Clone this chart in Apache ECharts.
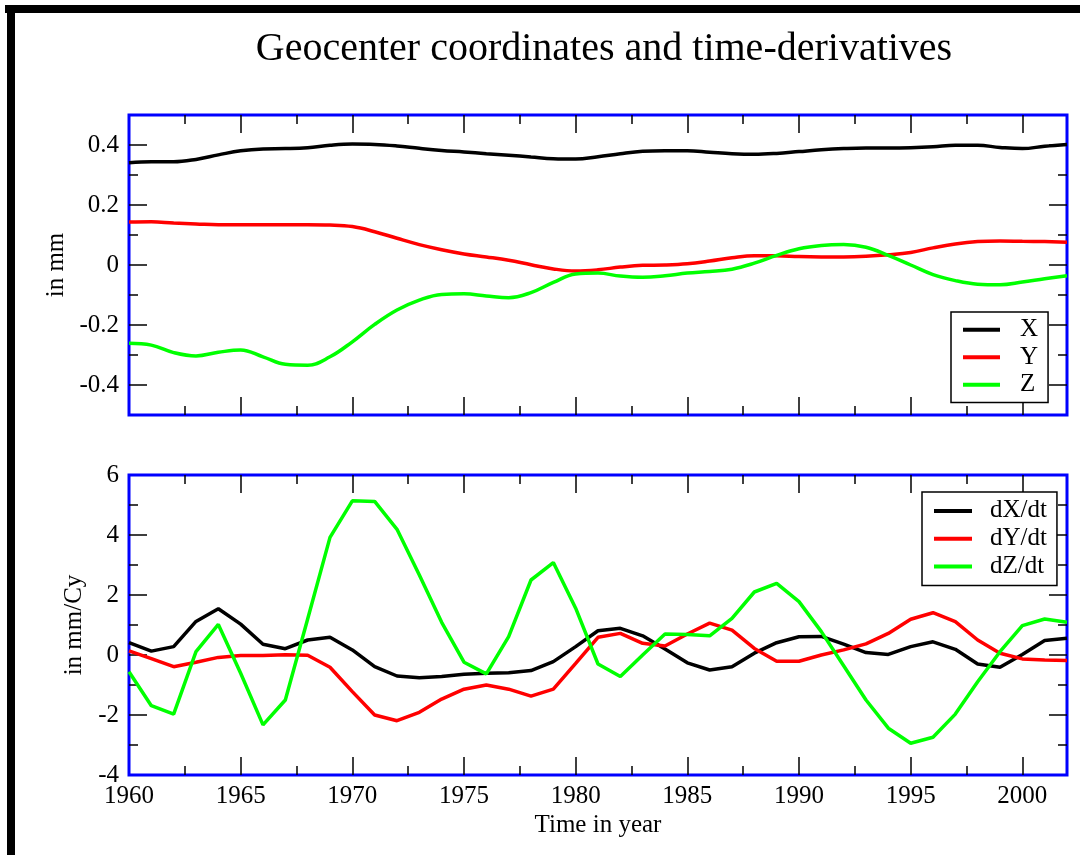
<!DOCTYPE html>
<html>
<head>
<meta charset="utf-8">
<script src="https://cdn.jsdelivr.net/npm/echarts@6/dist/echarts.min.js"></script>
<style>
html,body{margin:0;padding:0;background:#fff;}
#chart{width:1080px;height:855px;}
</style>
</head>
<body>
<div id="chart"></div>
<script>
// ---- data ----
const years = [1960,1961,1962,1963,1964,1965,1966,1967,1968,1969,1970,1971,1972,1973,1974,1975,1976,1977,1978,1979,1980,1981,1982,1983,1984,1985,1986,1987,1988,1989,1990,1991,1992,1993,1994,1995,1996,1997,1998,1999,2000,2001,2002];
const X = [0.341,0.344,0.344,0.352,0.367,0.381,0.387,0.388,0.391,0.399,0.403,0.402,0.397,0.389,0.382,0.377,0.371,0.366,0.360,0.354,0.353,0.361,0.371,0.379,0.381,0.381,0.376,0.371,0.369,0.372,0.378,0.384,0.388,0.390,0.390,0.391,0.394,0.399,0.399,0.392,0.388,0.396,0.402];
const Y = [0.143,0.144,0.140,0.137,0.134,0.134,0.134,0.134,0.134,0.133,0.128,0.111,0.089,0.068,0.051,0.037,0.027,0.016,0.001,-0.013,-0.020,-0.016,-0.007,-0.001,0.000,0.004,0.013,0.024,0.031,0.031,0.028,0.027,0.027,0.029,0.034,0.042,0.057,0.070,0.078,0.080,0.079,0.078,0.076];
const Z = [-0.261,-0.267,-0.292,-0.303,-0.291,-0.283,-0.306,-0.331,-0.334,-0.306,-0.256,-0.198,-0.150,-0.117,-0.098,-0.096,-0.103,-0.109,-0.092,-0.058,-0.030,-0.027,-0.037,-0.041,-0.036,-0.027,-0.022,-0.014,0.006,0.032,0.054,0.065,0.068,0.059,0.032,0.000,-0.032,-0.052,-0.064,-0.066,-0.057,-0.046,-0.036];
const dX = [0.41,0.13,0.28,1.12,1.54,1.03,0.36,0.21,0.50,0.59,0.17,-0.39,-0.70,-0.76,-0.72,-0.64,-0.61,-0.59,-0.52,-0.22,0.28,0.81,0.89,0.64,0.20,-0.26,-0.50,-0.39,0.06,0.41,0.61,0.62,0.36,0.08,0.02,0.28,0.44,0.19,-0.30,-0.41,0.02,0.48,0.56];
const dY = [0.14,-0.12,-0.39,-0.24,-0.08,-0.02,-0.02,0.01,-0.01,-0.41,-1.22,-2.00,-2.19,-1.91,-1.47,-1.14,-1.00,-1.14,-1.37,-1.14,-0.28,0.59,0.72,0.39,0.30,0.70,1.06,0.83,0.22,-0.21,-0.21,0.00,0.17,0.37,0.72,1.19,1.41,1.11,0.50,0.06,-0.13,-0.17,-0.18];
const dZ = [-0.56,-1.69,-1.97,0.11,1.02,-0.61,-2.33,-1.50,1.20,3.92,5.14,5.12,4.19,2.67,1.09,-0.24,-0.63,0.61,2.50,3.08,1.56,-0.30,-0.72,0.00,0.70,0.68,0.64,1.22,2.10,2.39,1.78,0.78,-0.36,-1.50,-2.44,-2.94,-2.74,-1.97,-0.89,0.11,0.98,1.20,1.09];

const xMajor = [1965,1970,1975,1980,1985,1990,1995,2000];
const xMinor = [1962.5,1967.5,1972.5,1977.5,1982.5,1987.5,1992.5,1997.5];
const xLabels = [1960,1965,1970,1975,1980,1985,1990,1995,2000];
const topMajor = [-0.4,-0.2,0,0.2,0.4];
const topMinor = [-0.3,-0.1,0.1,0.3];
const botMajor = [-2,0,2,4];
const botMinor = [-3,-1,1,3,5];
const botLabels = [-4,-2,0,2,4,6];

const FONT = "'Liberation Serif','Times New Roman',serif";
const BLUE = '#0000ff';
const C = {X:'#000000', Y:'#ff0000', Z:'#00ff00'};

const chart = echarts.init(document.getElementById('chart'), null, {renderer:'canvas'});

function xAx(grid, pos, ticks, len, labels, name) {
  const o = {
    type:'value', gridIndex:grid, position:pos, min:1960, max:2002,
    axisLine:{show:false, onZero:false}, splitLine:{show:false},
    axisTick:{show:true, inside:true, length:len, customValues:ticks, lineStyle:{color:'#000', width:1.5}},
    axisLabel:{show:!!labels, customValues:labels||[], margin:9, color:'#000', fontFamily:FONT, fontSize:25,
               formatter:v=>String(Math.round(v))}
  };
  if (name) {
    o.name = name; o.nameLocation = 'middle'; o.nameGap = 38;
    o.nameTextStyle = {color:'#000', fontFamily:FONT, fontSize:25};
  }
  return o;
}
function yAx(grid, pos, min, max, ticks, len, labels, name, gap, fmt) {
  const o = {
    type:'value', gridIndex:grid, position:pos, min:min, max:max,
    axisLine:{show:false, onZero:false}, splitLine:{show:false},
    axisTick:{show:true, inside:true, length:len, customValues:ticks, lineStyle:{color:'#000', width:1.5}},
    axisLabel:{show:!!labels, customValues:labels||[], margin:10, color:'#000', fontFamily:FONT, fontSize:25,
               formatter:fmt}
  };
  if (name) {
    o.name = name; o.nameLocation = 'middle'; o.nameGap = gap; o.nameRotate = 90;
    o.nameTextStyle = {color:'#000', fontFamily:FONT, fontSize:25};
  }
  return o;
}
const fmt1 = v => { const r = Math.round(v*10)/10; return r === 0 ? '0' : String(r); };
const fmt0 = v => String(Math.round(v));

const xAxes = [
  xAx(0,'bottom',xMajor,18,null,null),
  xAx(0,'bottom',xMinor,9,null,null),
  xAx(0,'top',xMajor,18,null,null),
  xAx(0,'top',xMinor,9,null,null),
  xAx(1,'bottom',xMajor,18,xLabels,'Time in year'),
  xAx(1,'bottom',xMinor,9,null,null),
  xAx(1,'top',xMajor,18,null,null),
  xAx(1,'top',xMinor,9,null,null)
];
const yAxes = [
  yAx(0,'left',-0.5,0.5,topMajor,18,topMajor,'in mm',50,fmt1),
  yAx(0,'left',-0.5,0.5,topMinor,9,null,null),
  yAx(0,'right',-0.5,0.5,topMajor,18,null,null),
  yAx(0,'right',-0.5,0.5,topMinor,9,null,null),
  yAx(1,'left',-4,6,botMajor,18,botLabels,'in mm/Cy',41,fmt0),
  yAx(1,'left',-4,6,botMinor,9,null,null),
  yAx(1,'right',-4,6,botMajor,18,null,null),
  yAx(1,'right',-4,6,botMinor,9,null,null)
];

function pairs(arr){ return years.map((y,i)=>[y, arr[i]]); }
function line(name, arr, color, xi, yi, smooth){
  return {type:'line', name:name, data:pairs(arr), xAxisIndex:xi, yAxisIndex:yi,
          showSymbol:false, symbol:'none', smooth:smooth, animation:false,
          lineStyle:{color:color, width:3.5}, itemStyle:{color:color}};
}

const legendCommon = {
  orient:'vertical', icon:'rect', itemHeight:4, itemGap:0,
  backgroundColor:'#fff', borderColor:'#000', borderWidth:1.5, borderRadius:0,
  selectedMode:false
};

chart.setOption({
  animation:false,
  backgroundColor:'#fff',
  title:{text:'Geocenter coordinates and time-derivatives', left:599, textAlign:'center', top:24,
         textStyle:{fontFamily:FONT, fontSize:40, fontWeight:'normal', color:'#000'}},
  grid:[
    {left:129, top:115, width:938, height:300, show:true, borderColor:BLUE, borderWidth:3, backgroundColor:'transparent', containLabel:false, outerBoundsMode:'none'},
    {left:129, top:475, width:938, height:300, show:true, borderColor:BLUE, borderWidth:3, backgroundColor:'transparent', containLabel:false, outerBoundsMode:'none'}
  ],
  xAxis: xAxes,
  yAxis: yAxes,
  legend:[
    Object.assign({}, legendCommon, {
      data:['X','Y','Z'], left:951, top:312, itemWidth:37,
      padding:[4,10,4,12],
      textStyle:{fontFamily:FONT, fontSize:25, color:'#000', lineHeight:27.5, padding:[0,0,0,15]}
    }),
    Object.assign({}, legendCommon, {
      data:['dX/dt','dY/dt','dZ/dt'], left:922, top:492, itemWidth:38,
      padding:[5,10,5,12],
      textStyle:{fontFamily:FONT, fontSize:25, color:'#000', lineHeight:27.8, padding:[0,0,0,13]}
    })
  ],
  series:[
    line('X', X, C.X, 0, 0, 0.4),
    line('Y', Y, C.Y, 0, 0, 0.4),
    line('Z', Z, C.Z, 0, 0, 0.4),
    line('dX/dt', dX, C.X, 4, 4, false),
    line('dY/dt', dY, C.Y, 4, 4, false),
    line('dZ/dt', dZ, C.Z, 4, 4, false)
  ],
  graphic:[
    {type:'rect', left:5, top:5, shape:{width:1075, height:8}, style:{fill:'#000'}, silent:true},
    {type:'rect', left:7, top:5, shape:{width:8, height:850}, style:{fill:'#000'}, silent:true}
  ]
});
</script>
</body>
</html>
